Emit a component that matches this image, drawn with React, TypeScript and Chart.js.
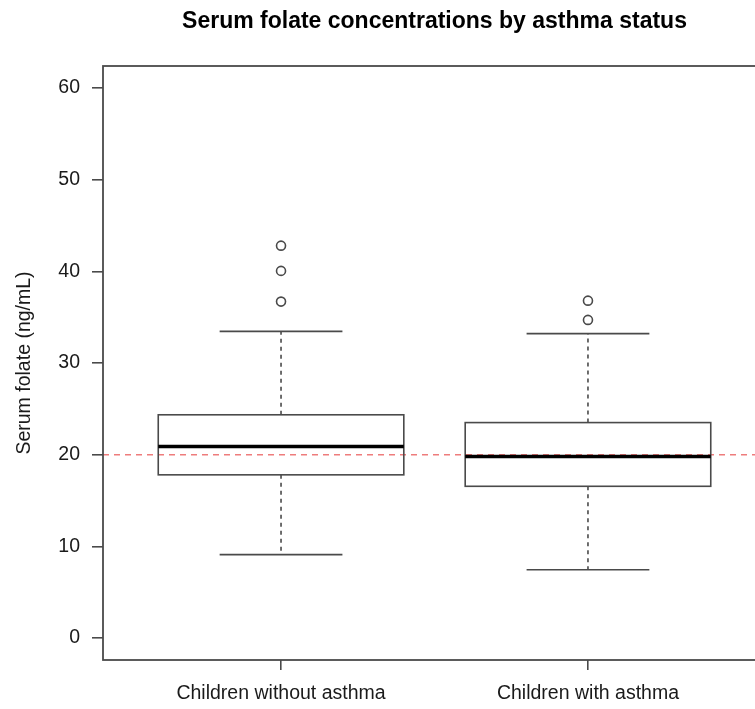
import React, { useEffect, useRef } from "react";
import { Chart, registerables } from "chart.js";

Chart.register(...registerables);

// ---- data ----
const categories = ["Children without asthma", "Children with asthma"];
const whiskerLow = [9.1, 7.45];
const q1 = [17.8, 16.55];
const medians = [20.9, 19.8];
const q3 = [24.35, 23.5];
const whiskerHigh = [33.45, 33.2];
const outliers = [
  [36.7, 40.05, 42.8],
  [34.7, 36.8],
];
const referenceLevel = 20;
const yTicks = [0, 10, 20, 30, 40, 50, 60];
const yRange = [-2.4, 62.4];
const xRange = [0.42, 2.58];

const FONT = "'Liberation Sans', Arial, Helvetica, sans-serif";
const GRAY = "#4a4a4a";
const TEXT = "#1a1a1a";

const boxPlugin = {
  id: "boxes",
  afterDatasetsDraw(chart: any) {
    const { ctx } = chart;
    const x = chart.scales.x;
    const y = chart.scales.y;
    ctx.save();
    categories.forEach((_, i) => {
      const pos = i + 1;
      const cx = x.getPixelForValue(pos);
      const bl = x.getPixelForValue(pos - 0.4);
      const br = x.getPixelForValue(pos + 0.4);
      const sl = x.getPixelForValue(pos - 0.2);
      const sr = x.getPixelForValue(pos + 0.2);
      const yLo = y.getPixelForValue(whiskerLow[i]);
      const yQ1 = y.getPixelForValue(q1[i]);
      const yMed = y.getPixelForValue(medians[i]);
      const yQ3 = y.getPixelForValue(q3[i]);
      const yHi = y.getPixelForValue(whiskerHigh[i]);

      ctx.strokeStyle = GRAY;
      ctx.lineWidth = 1.6;
      // dashed whiskers
      ctx.setLineDash([4, 4]);
      ctx.beginPath();
      ctx.moveTo(cx, yQ3);
      ctx.lineTo(cx, yHi);
      ctx.moveTo(cx, yQ1);
      ctx.lineTo(cx, yLo);
      ctx.stroke();
      ctx.setLineDash([]);
      // staples
      ctx.beginPath();
      ctx.moveTo(sl, yHi);
      ctx.lineTo(sr, yHi);
      ctx.moveTo(sl, yLo);
      ctx.lineTo(sr, yLo);
      ctx.stroke();
      // box
      ctx.strokeRect(bl, yQ3, br - bl, yQ1 - yQ3);
      // median
      ctx.strokeStyle = "#000";
      ctx.lineWidth = 3.5;
      ctx.beginPath();
      ctx.moveTo(bl, yMed);
      ctx.lineTo(br, yMed);
      ctx.stroke();
    });
    ctx.restore();
  },
};

const framePlugin = {
  id: "frame",
  afterDraw(chart: any) {
    const { ctx, chartArea } = chart;
    ctx.save();
    ctx.strokeStyle = GRAY;
    ctx.lineWidth = 1.8;
    ctx.strokeRect(
      chartArea.left,
      chartArea.top,
      chartArea.right - chartArea.left,
      chartArea.bottom - chartArea.top
    );
    ctx.restore();
  },
};

export default function App() {
  const ref = useRef<HTMLCanvasElement | null>(null);

  useEffect(() => {
    if (!ref.current) return;
    Chart.defaults.font.family = FONT;
    const outlierPoints = outliers.flatMap((vals, i) =>
      vals.map((v) => ({ x: i + 1, y: v }))
    );
    const chart = new Chart(ref.current, {
      type: "scatter",
      data: {
        datasets: [
          {
            type: "line",
            label: "Reference",
            data: [
              { x: xRange[0], y: referenceLevel },
              { x: xRange[1], y: referenceLevel },
            ],
            borderColor: "rgba(232,80,80,0.75)",
            borderWidth: 1.5,
            borderDash: [6, 5],
            pointRadius: 0,
            fill: false,
          } as any,
          {
            label: "Outliers",
            data: outlierPoints,
            pointRadius: 4.5,
            pointBorderWidth: 1.6,
            pointBorderColor: GRAY,
            pointBackgroundColor: "rgba(255,255,255,0)",
            pointStyle: "circle",
          } as any,
        ],
      },
      options: {
        responsive: false,
        animation: false,
        layout: { padding: { left: 0, right: 34, top: 0, bottom: 0 } },
        plugins: {
          legend: { display: false },
          tooltip: { enabled: false },
          title: {
            display: true,
            text: "Serum folate concentrations by asthma status",
            color: "#000",
            font: { size: 23, weight: "bold", family: FONT },
            padding: { top: 8, bottom: 30.4 },
            fullSize: false,
          } as any,
        },
        scales: {
          x: {
            type: "linear",
            min: xRange[0],
            max: xRange[1],
            afterBuildTicks: (s: any) => {
              s.ticks = categories.map((_, i) => ({ value: i + 1 }));
            },
            afterFit: (s: any) => {
              s.height = 49;
            },
            ticks: {
              callback: (_v: any, i: number) => categories[i],
              color: TEXT,
              font: { size: 19.5, family: FONT },
              padding: 12,
              maxRotation: 0,
              autoSkip: false,
            },
            grid: {
              drawOnChartArea: false,
              drawTicks: true,
              tickLength: 10,
              color: GRAY,
              lineWidth: 1.6,
            },
            border: { display: false },
          },
          y: {
            type: "linear",
            min: yRange[0],
            max: yRange[1],
            afterBuildTicks: (s: any) => {
              s.ticks = yTicks.map((v) => ({ value: v }));
            },
            afterFit: (s: any) => {
              s.width = 103;
            },
            ticks: {
              color: TEXT,
              font: { size: 19.5, family: FONT },
              padding: 12,
            },
            grid: {
              drawOnChartArea: false,
              drawTicks: true,
              tickLength: 11,
              color: GRAY,
              lineWidth: 1.6,
            },
            border: { display: false },
            title: {
              display: true,
              text: "Serum folate (ng/mL)",
              color: TEXT,
              font: { size: 19.5, family: FONT },
              padding: { top: 13, bottom: 0 },
            },
          },
        },
      } as any,
      plugins: [boxPlugin, framePlugin],
    });
    return () => chart.destroy();
  }, []);

  return (
    <div
      style={{
        position: "fixed",
        left: 0,
        top: 0,
        width: 755,
        height: 709,
        overflow: "hidden",
        background: "#fff",
      }}
    >
      <canvas ref={ref} width={800} height={709} style={{ display: "block" }} />
    </div>
  );
}
